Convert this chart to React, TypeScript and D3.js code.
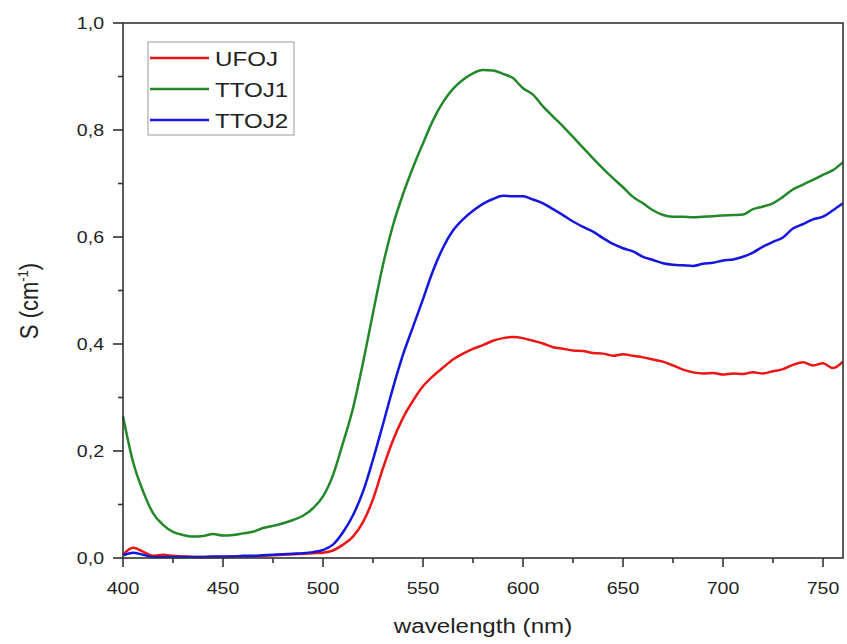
import React from "react";
import * as d3 from "d3";

const wavelengths = [400,405,410,415,420,425,430,435,440,445,450,455,460,465,470,475,480,485,490,495,500,505,510,515,520,525,530,535,540,545,550,555,560,565,570,575,580,585,590,595,600,605,610,615,620,625,630,635,640,645,650,655,660,665,670,675,680,685,690,695,700,705,710,715,720,725,730,735,740,745,750,755,760];

const ufoj = [0.006,0.019,0.012,0.004,0.006,0.004,0.003,0.002,0.002,0.002,0.002,0.003,0.003,0.003,0.004,0.005,0.006,0.007,0.008,0.009,0.010,0.014,0.025,0.040,0.067,0.110,0.168,0.220,0.262,0.294,0.321,0.340,0.356,0.371,0.382,0.391,0.398,0.406,0.411,0.413,0.411,0.406,0.401,0.394,0.391,0.388,0.387,0.383,0.382,0.378,0.381,0.378,0.375,0.371,0.367,0.360,0.352,0.347,0.345,0.346,0.343,0.345,0.344,0.347,0.345,0.349,0.353,0.361,0.366,0.360,0.364,0.355,0.367];

const ttoj1 = [0.265,0.180,0.125,0.084,0.062,0.049,0.043,0.040,0.041,0.045,0.042,0.043,0.046,0.049,0.056,0.060,0.065,0.071,0.079,0.093,0.115,0.155,0.215,0.280,0.365,0.458,0.548,0.622,0.680,0.730,0.775,0.818,0.852,0.877,0.894,0.906,0.912,0.911,0.905,0.897,0.878,0.866,0.844,0.825,0.807,0.787,0.767,0.747,0.728,0.710,0.693,0.675,0.663,0.650,0.641,0.638,0.638,0.637,0.638,0.639,0.640,0.641,0.642,0.652,0.657,0.663,0.675,0.689,0.698,0.707,0.716,0.725,0.740];

const ttoj2 = [0.005,0.010,0.006,0.002,0.002,0.002,0.002,0.002,0.002,0.003,0.003,0.003,0.004,0.004,0.005,0.006,0.007,0.008,0.009,0.011,0.015,0.025,0.048,0.080,0.124,0.184,0.250,0.318,0.380,0.432,0.484,0.537,0.580,0.612,0.633,0.649,0.662,0.671,0.677,0.676,0.676,0.670,0.663,0.652,0.641,0.629,0.619,0.610,0.598,0.587,0.579,0.573,0.563,0.557,0.551,0.548,0.547,0.546,0.550,0.552,0.556,0.558,0.563,0.571,0.582,0.591,0.599,0.616,0.624,0.633,0.638,0.650,0.663];

const seriesNames = ["UFOJ", "TTOJ1", "TTOJ2"];
const seriesColors = ["#ee1515", "#22882a", "#1515e0"];
const xMajorTicks = [400, 450, 500, 550, 600, 650, 700, 750];
const xMinorTicks = [425, 475, 525, 575, 625, 675, 725];
const yMajorTicks = [0, 0.2, 0.4, 0.6, 0.8, 1.0];
const yMinorTicks = [0.1, 0.3, 0.5, 0.7, 0.9];
const yTickLabels = ["0,0", "0,2", "0,4", "0,6", "0,8", "1,0"];

const FONT = "'Liberation Sans', Arial, sans-serif";
const SX = 1.15;

export default function App() {
  const x = d3.scaleLinear().domain([400, 760]).range([123, 843]);
  const y = d3.scaleLinear().domain([0, 1]).range([558, 23]);
  const allSeries = [ufoj, ttoj1, ttoj2];
  const line = d3
    .line<number>()
    .x((_, i) => x(wavelengths[i]))
    .y((d) => y(d))
    .curve(d3.curveMonotoneX);

  const axisColor = "#333";
  const left = x(400);
  const right = x(760);
  const top = y(1);
  const bottom = y(0);

  return (
    <svg
      width={847}
      height={644}
      style={{ position: "absolute", left: 0, top: 0, background: "#fff" }}
      fontFamily={FONT}
    >
      <rect x={0} y={0} width={847} height={644} fill="#fff" />
      {allSeries.map((s, k) => (
        <path key={k} d={line(s) || ""} fill="none" stroke={seriesColors[k]} strokeWidth={2.5} strokeLinejoin="round" />
      ))}
      {/* frame */}
      <rect x={left} y={top} width={right - left} height={bottom - top} fill="none" stroke={axisColor} strokeWidth={1.6} />
      {/* x ticks */}
      {xMajorTicks.map((t) => (
        <g key={"xm" + t}>
          <line x1={x(t)} x2={x(t)} y1={bottom} y2={bottom + 9} stroke={axisColor} strokeWidth={1.6} />
          <text transform={`translate(${x(t)},594) scale(${SX},1)`} textAnchor="middle" fontSize={17} fill="#222">
            {t}
          </text>
        </g>
      ))}
      {xMinorTicks.map((t) => (
        <line key={"xn" + t} x1={x(t)} x2={x(t)} y1={bottom} y2={bottom + 5} stroke={axisColor} strokeWidth={1.6} />
      ))}
      {/* y ticks */}
      {yMajorTicks.map((t, i) => (
        <g key={"ym" + t}>
          <line x1={left} x2={left - 10} y1={y(t)} y2={y(t)} stroke={axisColor} strokeWidth={1.6} />
          <text transform={`translate(104,${y(t) + 6}) scale(${SX},1)`} textAnchor="end" fontSize={17} fill="#222">
            {yTickLabels[i]}
          </text>
        </g>
      ))}
      {yMinorTicks.map((t) => (
        <line key={"yn" + t} x1={left} x2={left - 5} y1={y(t)} y2={y(t)} stroke={axisColor} strokeWidth={1.6} />
      ))}
      {/* axis titles */}
      <text transform={`translate(${(left + right) / 2},633) scale(${SX},1)`} textAnchor="middle" fontSize={21} fill="#222">
        wavelength (nm)
      </text>
      <text transform={`translate(38,301) scale(${SX},1) rotate(-90)`} textAnchor="middle" fontSize={22} fill="#222">
        S (cm<tspan dy={-9} fontSize={13}>-1</tspan>
        <tspan dy={9}>)</tspan>
      </text>
      {/* legend */}
      <rect x={148} y={42} width={146} height={93} fill="#fff" stroke="#999" strokeWidth={1} />
      {seriesNames.map((n, k) => (
        <g key={n}>
          <line x1={150} x2={209} y1={58 + k * 31} y2={58 + k * 31} stroke={seriesColors[k]} strokeWidth={2.5} />
          <text transform={`translate(215,${66 + k * 31}) scale(${SX},1)`} fontSize={21} fill="#222">
            {n}
          </text>
        </g>
      ))}
    </svg>
  );
}
